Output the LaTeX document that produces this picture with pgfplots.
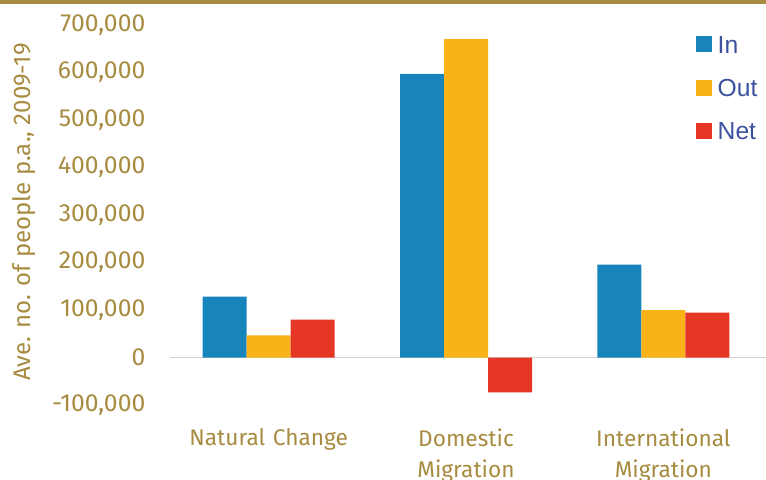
\documentclass[border=0pt]{standalone}
\usepackage{pgfplots}
\pgfplotsset{compat=1.18}
\usepackage{fontspec}
\setmainfont{Fira Sans}
\newfontfamily\legfont{Liberation Sans}
\definecolor{gold}{RGB}{166,139,64}
\definecolor{cIn}{RGB}{23,133,188}
\definecolor{cOut}{RGB}{249,178,24}
\definecolor{cNet}{RGB}{230,55,38}
\definecolor{legblue}{RGB}{60,82,160}
\begin{document}
\begin{tikzpicture}
\path[use as bounding box] (0pt,0pt) rectangle (574.5pt,359.25pt);
\fill[gold] (0pt,356.25pt) rectangle (574.5pt,359.25pt);
\begin{axis}[
  at={(127.5pt,55.5pt)}, anchor=south west,
  scale only axis,
  width=447pt, height=285pt,
  ybar=0pt, bar width=33pt,
  xmin=-0.5, xmax=2.52,
  ymin=-100000, ymax=700000,
  ytick={-100000,0,100000,200000,300000,400000,500000,600000,700000},
  yticklabels={{-100,000},{0},{100,000},{200,000},{300,000},{400,000},{500,000},{600,000},{700,000}},
  scaled y ticks=false,
  xtick={0,1,2},
  xticklabels={Natural Change,Domestic Migration,International Migration},
  xticklabel style={text width=130pt, align=center, font=\fontsize{17}{23.5}\selectfont, text=gold, yshift=-10pt},
  yticklabel style={font=\fontsize{18.5}{20}\selectfont, text=gold, xshift=-15pt},
  axis line style={draw=none},
  tick style={draw=none},
  extra y ticks={0},
  extra y tick labels={},
  extra y tick style={grid=major, major grid style={gray!35, line width=1pt}},
  ylabel={Ave. no. of people p.a., 2009-19},
  ylabel style={font=\fontsize{18}{20}\selectfont, text=gold, at={(axis description cs:-0.218,0.508)}},
  legend style={at={(axis description cs:0.876,0.985)}, anchor=north west, draw=none, fill=none,
    font=\legfont\fontsize{18.5}{20}\selectfont, text=legblue, row sep=14pt,
    nodes={inner xsep=4pt}},
  legend image code/.code={\draw[#1,draw=none] (0pt,-5pt) rectangle (12pt,7pt);},
  legend cell align=left,
  clip=false,
]
\addplot[fill=cIn, draw=none] coordinates {(0,128000) (1,597000) (2,195500)};
\addplot[fill=cOut, draw=none] coordinates {(0,46500) (1,670500) (2,99500)};
\addplot[fill=cNet, draw=none] coordinates {(0,80000) (1,-73500) (2,94500)};
\legend{In,Out,Net}
\end{axis}
\end{tikzpicture}
\end{document}
